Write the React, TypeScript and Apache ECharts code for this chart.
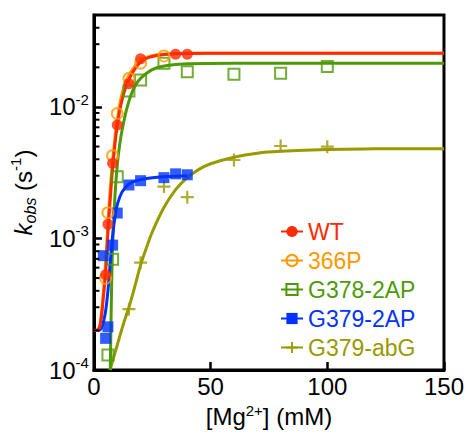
import React, { useEffect, useRef } from "react";
import * as echarts from "echarts";

// ---------- data ----------
const seriesNames = ["WT", "366P", "G378-2AP", "G379-2AP", "G379-abG"];

const wtX = [5, 6, 8, 10, 15, 20, 35, 40];
const wtY = [5.3e-4, 1.28e-3, 3.73e-3, 7.3e-3, 1.5e-2, 2.32e-2, 2.52e-2, 2.52e-2];

const p366X = [5, 6, 8, 10, 15, 20, 30];
const p366Y = [4.98e-4, 1.57e-3, 4.26e-3, 8.9e-3, 1.65e-2, 2.15e-2, 2.44e-2];

const g378X = [6, 8, 10, 15, 20, 30, 40, 60, 80, 100];
const g378Y = [1.3e-4, 6.95e-4, 2.95e-3, 1.32e-2, 1.6e-2, 2.15e-2, 1.85e-2, 1.77e-2, 1.8e-2, 2.03e-2];

const g379X = [4, 5, 6, 8, 10, 15, 20, 30, 35, 40];
const g379Y = [7.4e-4, 1.74e-4, 2.13e-4, 8.9e-4, 1.56e-3, 2.55e-3, 2.75e-3, 2.9e-3, 3.1e-3, 3.05e-3];

const abgX = [15, 20, 30, 40, 60, 80, 100];
const abgY = [2.9e-4, 6.55e-4, 2.48e-3, 2.06e-3, 3.95e-3, 5.05e-3, 4.99e-3];

// fitted curves
const wtFitX = [0, 2, 3, 4, 5, 6, 7, 8, 9, 10, 12, 15, 20, 25, 30, 40, 60, 100, 150];
const wtFitY = [2.0e-4, 2.05e-4, 2.4e-4, 3.5e-4, 5.5e-4, 1.1e-3, 2.0e-3, 3.4e-3, 5.2e-3, 7.2e-3, 1.12e-2, 1.62e-2, 2.2e-2, 2.42e-2, 2.5e-2, 2.55e-2, 2.56e-2, 2.56e-2, 2.56e-2];

const p366FitX = [0, 2, 3, 4, 5, 6, 7, 8, 9, 10, 12, 15, 20, 25, 30, 40, 60, 100, 150];
const p366FitY = [2.0e-4, 2.05e-4, 2.5e-4, 3.8e-4, 6.5e-4, 1.3e-3, 2.4e-3, 3.9e-3, 5.8e-3, 8.0e-3, 1.25e-2, 1.75e-2, 2.25e-2, 2.45e-2, 2.52e-2, 2.56e-2, 2.56e-2, 2.56e-2, 2.56e-2];

const g378FitX = [7.0, 7.3, 7.6, 8, 9, 10, 11, 12, 14, 16, 18, 20, 25, 30, 40, 60, 100, 150];
const g378FitY = [1.0e-4, 2.2e-4, 4.5e-4, 8.5e-4, 2.1e-3, 3.6e-3, 5.1e-3, 6.6e-3, 9.6e-3, 1.25e-2, 1.48e-2, 1.65e-2, 1.92e-2, 2.05e-2, 2.13e-2, 2.15e-2, 2.15e-2, 2.15e-2];

const g379FitX = [0, 2, 3, 4, 5, 6, 7, 8, 9, 10, 12, 15, 20, 25, 30, 40];
const g379FitY = [2.0e-4, 2.0e-4, 2.05e-4, 2.3e-4, 2.8e-4, 4.0e-4, 6.6e-4, 1.05e-3, 1.45e-3, 1.8e-3, 2.25e-3, 2.6e-3, 2.8e-3, 2.9e-3, 2.95e-3, 3.0e-3];

const abgFitX = [6.9, 10, 12.5, 15, 17.5, 20, 22.5, 25, 30, 35, 40, 45, 50, 60, 70, 80, 100, 120, 150];
const abgFitY = [1.0e-4, 1.55e-4, 2.2e-4, 3.0e-4, 4.3e-4, 6.3e-4, 8.5e-4, 1.12e-3, 1.72e-3, 2.35e-3, 2.9e-3, 3.35e-3, 3.7e-3, 4.15e-3, 4.45e-3, 4.6e-3, 4.75e-3, 4.8e-3, 4.82e-3];

const xTicks = [0, 50, 100, 150];
const yMinorTicks = [
  2e-4, 3e-4, 4e-4, 5e-4, 6e-4, 7e-4, 8e-4, 9e-4,
  2e-3, 3e-3, 4e-3, 5e-3, 6e-3, 7e-3, 8e-3, 9e-3,
  2e-2, 3e-2, 4e-2,
];

const colors = ["#ff2a00", "#ff9900", "#4e9a06", "#0033ff", "#999900"];
const PLUS = "path://M5,0H7V5H12V7H7V12H5V7H0V5H5Z";
const FONT = "Liberation Sans, Arial, Helvetica, sans-serif";

const zip = (xs: number[], ys: number[]) => xs.map((x, i) => [x, ys[i]]);

export default function App() {
  const ref = useRef<HTMLDivElement>(null);
  useEffect(() => {
    document.body.style.margin = "0";
    const chart = echarts.init(ref.current!, null, { renderer: "svg" });

    const symbolDefs = [
      { symbol: "circle", size: 11, itemStyle: { color: colors[0] } },
      { symbol: "circle", size: 11, itemStyle: { color: "rgba(255,255,255,0)", borderColor: colors[1], borderWidth: 2 } },
      { symbol: "rect", size: 11, itemStyle: { color: "rgba(255,255,255,0)", borderColor: colors[2], borderWidth: 2 } },
      { symbol: "rect", size: 11, itemStyle: { color: colors[3] } },
      { symbol: PLUS, size: 13, itemStyle: { color: colors[4] } },
    ];
    const fits = [
      zip(wtFitX, wtFitY),
      zip(p366FitX, p366FitY),
      zip(g378FitX, g378FitY),
      zip(g379FitX, g379FitY),
      zip(abgFitX, abgFitY),
    ];
    const pts = [
      zip(wtX, wtY),
      zip(p366X, p366Y),
      zip(g378X, g378Y),
      zip(g379X, g379Y),
      zip(abgX, abgY),
    ];

    // curves first (legend picks the first series with a name), drawn in this order
    const curveOrder = [4, 2, 3, 1, 0];
    const curveSeries = curveOrder.map((i) => ({
      name: seriesNames[i],
      type: "line",
      data: fits[i],
      smooth: 0.4,
      symbol: symbolDefs[i].symbol,
      symbolSize: symbolDefs[i].size,
      showSymbol: false,
      itemStyle: symbolDefs[i].itemStyle,
      lineStyle: { color: colors[i], width: 3 },
      z: 2,
      silent: true,
    }));
    const pointSeries = curveOrder.map((i) => ({
      name: seriesNames[i],
      type: "scatter",
      data: pts[i],
      symbol: symbolDefs[i].symbol,
      symbolSize: symbolDefs[i].size,
      itemStyle: symbolDefs[i].itemStyle,
      z: 3,
      silent: true,
    }));

    chart.setOption({
      animation: false,
      textStyle: { fontFamily: FONT },
      grid: {
        left: 92,
        right: 21,
        top: 15,
        bottom: 66,
        show: true,
        borderColor: "#000",
        borderWidth: 3,
        backgroundColor: "transparent",
      },
      legend: {
        orient: "vertical",
        left: 275,
        top: 215,
        itemWidth: 22,
        itemHeight: 14,
        itemGap: 6,
        selectedMode: false,
        textStyle: { fontSize: 23, fontFamily: FONT, lineHeight: 23 },
        data: seriesNames.map((n, i) => ({ name: n, textStyle: { color: colors[i] } })),
      },
      xAxis: {
        type: "value",
        min: xTicks[0],
        max: xTicks[xTicks.length - 1],
        interval: xTicks[1] - xTicks[0],
        name: "{t|[Mg}{s|2+}{t|] (mM)}",
        nameLocation: "middle",
        nameGap: 28,
        nameTextStyle: {
          rich: {
            t: { fontSize: 24, color: "#000", fontFamily: FONT, lineHeight: 28 },
            s: { fontSize: 15, color: "#000", fontFamily: FONT, verticalAlign: "top", lineHeight: 28 },
          },
        },
        axisLine: { lineStyle: { color: "#000", width: 3 } },
        axisTick: { inside: true, length: 8, lineStyle: { color: "#000", width: 2.5 } },
        axisLabel: { color: "#000", fontSize: 24, margin: 4, fontFamily: FONT },
        splitLine: { show: false },
      },
      yAxis: {
        type: "log",
        logBase: 10,
        min: 1e-4,
        max: 0.05,
        name: "{i|k}{sub|obs}{n| (s}{sup|-1}{n|)}",
        nameLocation: "middle",
        nameGap: 55,
        nameRotate: 90,
        nameTextStyle: {
          rich: {
            i: { fontSize: 24, fontStyle: "italic", color: "#000", fontFamily: FONT, lineHeight: 30 },
            sub: { fontSize: 16, fontStyle: "italic", color: "#000", fontFamily: FONT, verticalAlign: "bottom", lineHeight: 24 },
            n: { fontSize: 24, color: "#000", fontFamily: FONT, lineHeight: 30 },
            sup: { fontSize: 15, color: "#000", fontFamily: FONT, verticalAlign: "top", lineHeight: 24 },
          },
        },
        axisLine: { lineStyle: { color: "#000", width: 3 } },
        axisTick: { inside: true, length: 8, lineStyle: { color: "#000", width: 2.5 } },
        axisLabel: {
          margin: 5,
          showMaxLabel: false,
          formatter: (v: number) => {
            const e = Math.log10(v);
            if (Math.abs(e - Math.round(e)) > 1e-6) return "";
            return `{b|10}{s|${Math.round(e)}}`;
          },
          rich: {
            b: { fontSize: 24, color: "#000", fontFamily: FONT, lineHeight: 30 },
            s: { fontSize: 15, color: "#000", fontFamily: FONT, verticalAlign: "top", lineHeight: 24 },
          },
        },
        splitLine: { show: false },
      },
      series: [
        ...curveSeries,
        ...pointSeries,
        {
          type: "custom",
          silent: true,
          clip: false,
          z: 6,
          data: yMinorTicks.map((v) => [0, v]),
          renderItem: (_p: any, api: any) => {
            const c = api.coord([0, api.value(1)]);
            return {
              type: "line",
              shape: { x1: c[0], y1: c[1], x2: c[0] + 5.5, y2: c[1] },
              style: { stroke: "#000", lineWidth: 2 },
            };
          },
        },
      ],
    });
    return () => chart.dispose();
  }, []);
  return <div ref={ref} style={{ width: 467, height: 436 }} />;
}
